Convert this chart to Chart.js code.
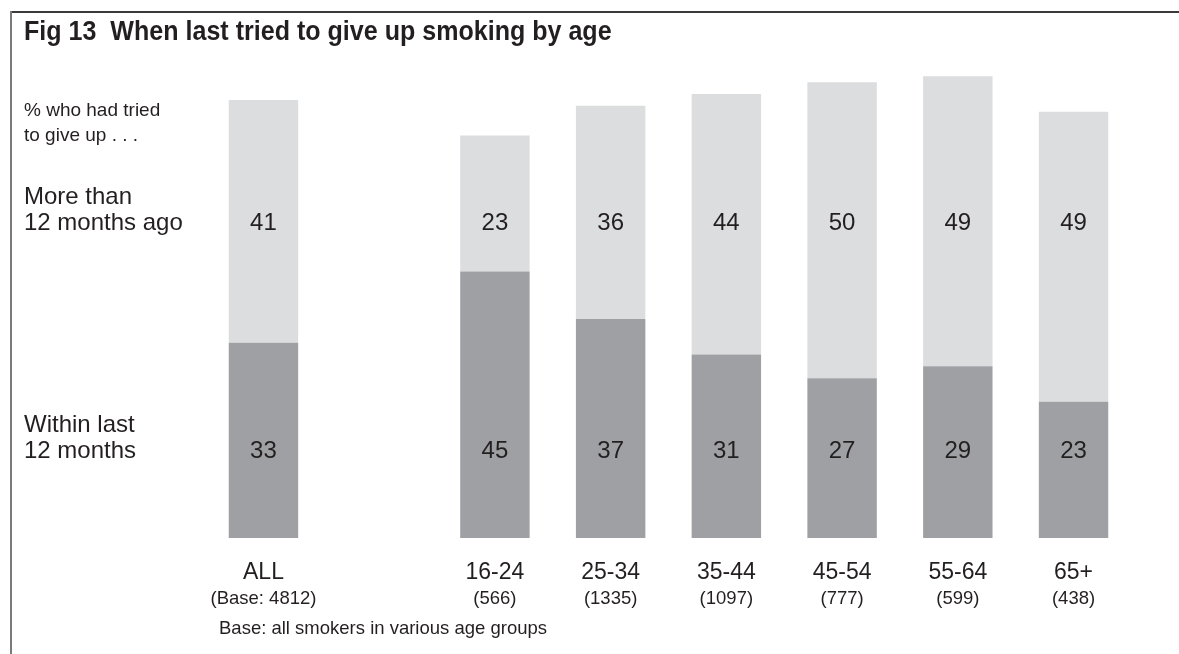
<!DOCTYPE html>
<html>
<head>
<meta charset="utf-8">
<title>Fig 13 When last tried to give up smoking by age</title>
<script src="https://cdn.jsdelivr.net/npm/chart.js@4/dist/chart.umd.min.js"></script>
<style>
    html, body { margin: 0; padding: 0; background: #fff; }
    #wrap {
        position: relative;
        width: 1179px;
        height: 654px;
        overflow: hidden;
        font-family: 'Liberation Sans', Arial, sans-serif;
        color: #231f20;
    }
    #chart { position: absolute; left: 0; top: 0; }
    .frameTop { position: absolute; left: 10px; top: 11px; width: 1169px; height: 2px; background: #3a3a3a; }
    .frameLeft { position: absolute; left: 10px; top: 11px; width: 2px; height: 643px; background: #7a7a7a; }
    .txt { position: absolute; white-space: nowrap; }
    #title { left: 24px; top: 16.8px; font-size: 28px; line-height: 28px; font-weight: bold; transform: scaleX(0.895); transform-origin: left top; }
    #note { left: 24px; top: 96.6px; font-size: 19px; line-height: 25.5px; }
    #moreLbl { left: 24px; top: 182.7px; font-size: 24px; line-height: 26px; }
    #withinLbl { left: 24px; top: 410.7px; font-size: 24px; line-height: 26px; }
    #footnote { left: 219px; top: 617.6px; font-size: 18.5px; line-height: 20px; }
</style>
</head>
<body>
<div id="wrap">
    <canvas id="chart" width="1179" height="654"></canvas>
    <div class="frameTop"></div>
    <div class="frameLeft"></div>
    <div class="txt" id="title">Fig 13&nbsp;&nbsp;When last tried to give up smoking by age</div>
    <div class="txt" id="note">% who had tried<br>to give up . . .</div>
    <div class="txt" id="moreLbl">More than<br>12 months ago</div>
    <div class="txt" id="withinLbl">Within last<br>12 months</div>
    <div class="txt" id="footnote">Base: all smokers in various age groups</div>
</div>

<script>
// Age groups (empty slot = gap between ALL and the age bars)
const categories = ['ALL', '', '16-24', '25-34', '35-44', '45-54', '55-64', '65+'];
const baseLabels = ['(Base: 4812)', '', '(566)', '(1335)', '(1097)', '(777)', '(599)', '(438)'];

// % who had tried to give up
const withinLast12 = [33, null, 45, 37, 31, 27, 29, 23];
const moreThan12 = [41, null, 23, 36, 44, 50, 49, 49];

const FONT = "'Liberation Sans', Arial, sans-serif";
const TEXT_COLOR = '#231f20';

// Numbers written inside the bars, on two fixed rows lined up with the side labels
const valueLabels = {
    id: 'valueLabels',
    afterDatasetsDraw(chart) {
        const ctx = chart.ctx;
        const rowY = [458, 230]; // baseline of lower row, upper row
        ctx.save();
        ctx.font = '24px ' + FONT;
        ctx.fillStyle = TEXT_COLOR;
        ctx.textAlign = 'center';
        ctx.textBaseline = 'alphabetic';
        chart.data.datasets.forEach((ds, i) => {
            const meta = chart.getDatasetMeta(i);
            meta.data.forEach((bar, j) => {
                if (ds.data[j] == null) return;
                ctx.fillText(String(ds.data[j]), bar.x, rowY[i]);
            });
        });
        ctx.restore();
    }
};

document.addEventListener('DOMContentLoaded', function () {
    const canvas = document.getElementById('chart');

    new Chart(canvas, {
        type: 'bar',
        data: {
            labels: categories,
            datasets: [
                {
                    label: 'Within last 12 months',
                    data: withinLast12,
                    backgroundColor: '#9fa0a4'
                },
                {
                    label: 'More than 12 months ago',
                    data: moreThan12,
                    backgroundColor: '#dcdddf'
                }
            ]
        },
        options: {
            responsive: false,
            animation: false,
            layout: {
                padding: { left: 205.6, right: 47.6, top: 64.4, bottom: 42.6 }
            },
            datasets: {
                bar: { barPercentage: 0.6, categoryPercentage: 1 }
            },
            plugins: {
                legend: { display: false },
                title: { display: false },
                tooltip: { enabled: false }
            },
            scales: {
                x: {
                    stacked: true,
                    offset: true,
                    // invisible tick marks give the gap above the labels only
                    grid: { display: false, drawTicks: true, tickLength: 21 },
                    border: { display: false },
                    ticks: {
                        color: TEXT_COLOR,
                        font: { family: FONT, size: 23 },
                        padding: 0,
                        autoSkip: false,
                        maxRotation: 0
                    }
                },
                x2: {
                    type: 'category',
                    labels: baseLabels,
                    position: 'bottom',
                    offset: true,
                    grid: { display: false, drawTicks: false },
                    border: { display: false },
                    ticks: {
                        color: TEXT_COLOR,
                        font: { family: FONT, size: 18.5 },
                        padding: 1.3,
                        autoSkip: false,
                        maxRotation: 0
                    }
                },
                y: {
                    stacked: true,
                    display: false,
                    min: 0,
                    max: 80
                }
            }
        },
        plugins: [valueLabels]
    });
});
</script>
</body>
</html>
